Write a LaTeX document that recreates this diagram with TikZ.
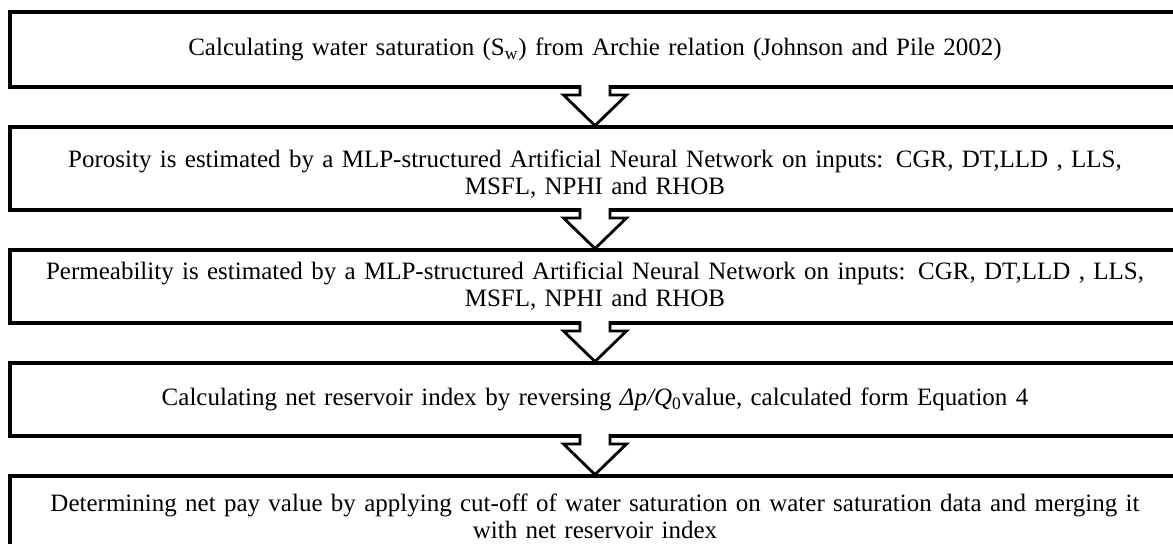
\documentclass[tikz,border=0pt]{standalone}
\usepackage{fontspec}
\setmainfont{Liberation Serif}
\usetikzlibrary{positioning}

\begin{document}
\begin{tikzpicture}[
		stepbox/.style = {draw, line width=1.8pt, outer sep=0pt, inner sep=2pt,
			minimum width=585pt, text width=580pt, align=center,
			font=\fontsize{12.5}{13.5}\selectfont},
		blockarrow/.style = {draw, line width=1.4pt, fill=white, line join=miter},
		node distance = 20pt
	]
	\useasboundingbox (0,0) rectangle (586.5pt,271.5pt);
	\clip (0,0) rectangle (586.5pt,271.5pt);

	% steps
	\node[stepbox, minimum height=37.5pt, anchor=north west] (calcsw) at (5pt,265.5pt)
		{Calculating water saturation (S\textsubscript{w}) from Archie relation (Johnson and Pile 2002)};
	\node[stepbox, minimum height=41.5pt, below=of calcsw] (poro)
		{\rule{0pt}{14pt}Porosity is estimated by a MLP-structured Artificial Neural Network on inputs: CGR, DT,LLD , LLS,\\ MSFL, NPHI and RHOB};
	\node[stepbox, minimum height=36.5pt, below=of poro] (perm)
		{Permeability is estimated by a MLP-structured Artificial Neural Network on inputs: CGR, DT,LLD , LLS,\\ MSFL, NPHI and RHOB};
	\node[stepbox, minimum height=36.5pt, below=of perm] (netres)
		{Calculating net reservoir index by reversing {\itshape Δp/Q}\textsubscript{0}value, calculated form Equation 4};
	\node[stepbox, minimum height=40pt, below=of netres] (netpay)
		{Determining net pay value by applying cut-off of water saturation on water saturation data and merging it\\ with net reservoir index};

	% block arrows between the steps
	\foreach \a/\b in {calcsw/poro, poro/perm, perm/netres, netres/netpay}
		\draw[blockarrow] ([shift={(-7.5pt,0.9pt)}]\a.south) -- ([shift={(-7.5pt,-4pt)}]\a.south)
			-- ([shift={(-15.75pt,-4pt)}]\a.south) -- ([yshift=0.7pt]\b.north)
			-- ([shift={(15.75pt,-4pt)}]\a.south) -- ([shift={(7.5pt,-4pt)}]\a.south)
			-- ([shift={(7.5pt,0.9pt)}]\a.south);
\end{tikzpicture}
\end{document}
